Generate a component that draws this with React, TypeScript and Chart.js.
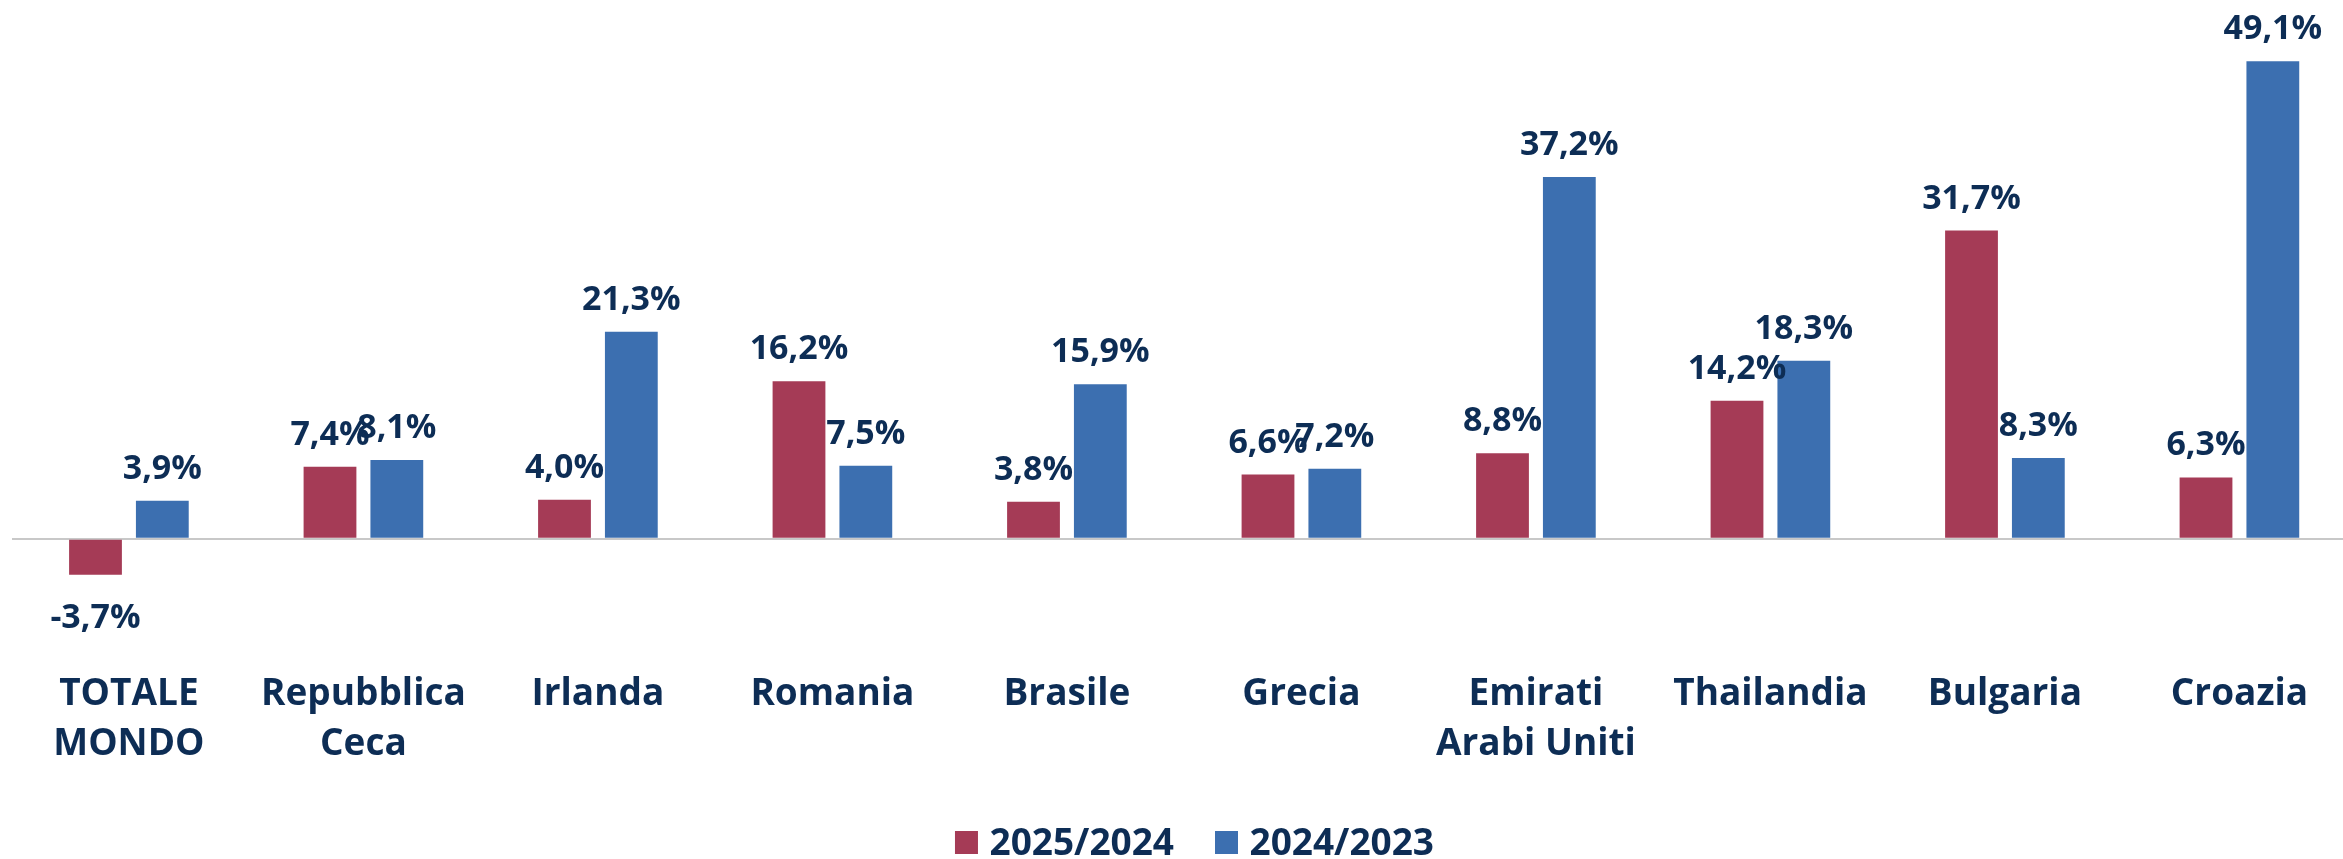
import React, { useEffect, useRef } from 'react';
import { Chart, registerables } from 'chart.js';

Chart.register(...registerables);

const categories: (string | string[])[] = [
  ['TOTALE', 'MONDO'],
  ['Repubblica', 'Ceca'],
  'Irlanda',
  'Romania',
  'Brasile',
  'Grecia',
  ['Emirati', 'Arabi Uniti'],
  'Thailandia',
  'Bulgaria',
  'Croazia',
];
const series2025 = [-3.7, 7.4, 4.0, 16.2, 3.8, 6.6, 8.8, 14.2, 31.7, 6.3];
const series2024 = [3.9, 8.1, 21.3, 7.5, 15.9, 7.2, 37.2, 18.3, 8.3, 49.1];
const seriesNames = ['2025/2024', '2024/2023'];
const seriesColors = ['#A53B56', '#3C6FB0'];

const TEXT = '#0D2D55';
const FONT = '"Open Sans", "DejaVu Sans", sans-serif';
const CW = 2361;
const CH = 859;

const fmt = (v: number) => v.toFixed(1).replace('.', ',') + '%';

const labelPlugin = {
  id: 'valueLabels',
  afterDatasetsDraw(chart: any) {
    const ctx = chart.ctx;
    ctx.save();
    ctx.font = `bold 34px ${FONT}`;
    ctx.fillStyle = TEXT;
    ctx.textAlign = 'center';
    ctx.textBaseline = 'alphabetic';
    chart.data.datasets.forEach((ds: any, di: number) => {
      const meta = chart.getDatasetMeta(di);
      meta.data.forEach((el: any, i: number) => {
        const v = ds.data[i] as number;
        const y = v >= 0 ? el.y - 22 : el.y + 53;
        ctx.fillText(fmt(v), el.x, y);
      });
    });
    ctx.restore();
  },
};

const legendPlugin = {
  id: 'customLegend',
  afterDraw(chart: any) {
    const ctx = chart.ctx;
    ctx.save();
    ctx.font = `bold 37px ${FONT}`;
    ctx.textBaseline = 'alphabetic';
    ctx.textAlign = 'left';
    const box = 23;
    const gap = 11.5;
    const itemGap = 41;
    const widths = seriesNames.map((n) => ctx.measureText(n).width);
    const total = widths.reduce((a, w) => a + box + gap + w, 0) + itemGap * (seriesNames.length - 1);
    let x = 1194.5 - total / 2;
    const baseY = 855;
    seriesNames.forEach((n, i) => {
      ctx.fillStyle = seriesColors[i];
      ctx.fillRect(x, 831, box, box);
      ctx.fillStyle = TEXT;
      ctx.fillText(n, x + box + gap, baseY);
      x += box + gap + widths[i] + itemGap;
    });
    ctx.restore();
  },
};

export default function App() {
  const ref = useRef<HTMLCanvasElement | null>(null);

  useEffect(() => {
    if (!ref.current) return;
    const chart = new Chart(ref.current, {
      type: 'bar',
      data: {
        labels: categories as any,
        datasets: [
          {
            label: seriesNames[0],
            data: series2025,
            backgroundColor: seriesColors[0],
            categoryPercentage: 0.57,
            barPercentage: 0.79,
          },
          {
            label: seriesNames[1],
            data: series2024,
            backgroundColor: seriesColors[1],
            categoryPercentage: 0.57,
            barPercentage: 0.79,
          },
        ],
      },
      options: {
        responsive: false,
        animation: false,
        devicePixelRatio: 1,
        layout: { padding: { left: 10, right: 0, top: 4, bottom: 92.5 } },
        plugins: {
          legend: { display: false },
          tooltip: { enabled: false },
        },
        scales: {
          x: {
            grid: { display: false, drawTicks: false },
            border: { display: false },
            ticks: {
              autoSkip: false,
              maxRotation: 0,
              minRotation: 0,
              padding: 53,
              color: TEXT,
              font: { family: FONT, size: 37, weight: 'bold', lineHeight: 1.35 },
            },
            afterFit: (scale: any) => {
              scale.height = 150;
            },
          },
          y: {
            min: -8,
            max: 55,
            ticks: { display: false, stepSize: 10 },
            border: { display: false },
            grid: {
              drawTicks: false,
              color: (c: any) => (c.tick && c.tick.value === 0 ? '#C8C8C8' : 'rgba(0,0,0,0)'),
              lineWidth: 2,
            },
            afterFit: (scale: any) => {
              scale.width = 0;
            },
          },
        },
      },
      plugins: [labelPlugin, legendPlugin],
    });
    return () => chart.destroy();
  }, []);

  return (
    <div
      style={{
        position: 'absolute',
        left: 0,
        top: 0,
        width: 2343,
        height: CH,
        overflow: 'hidden',
        background: '#ffffff',
      }}
    >
      <canvas ref={ref} width={CW} height={CH} style={{ width: CW, height: CH, display: 'block' }} />
    </div>
  );
}
